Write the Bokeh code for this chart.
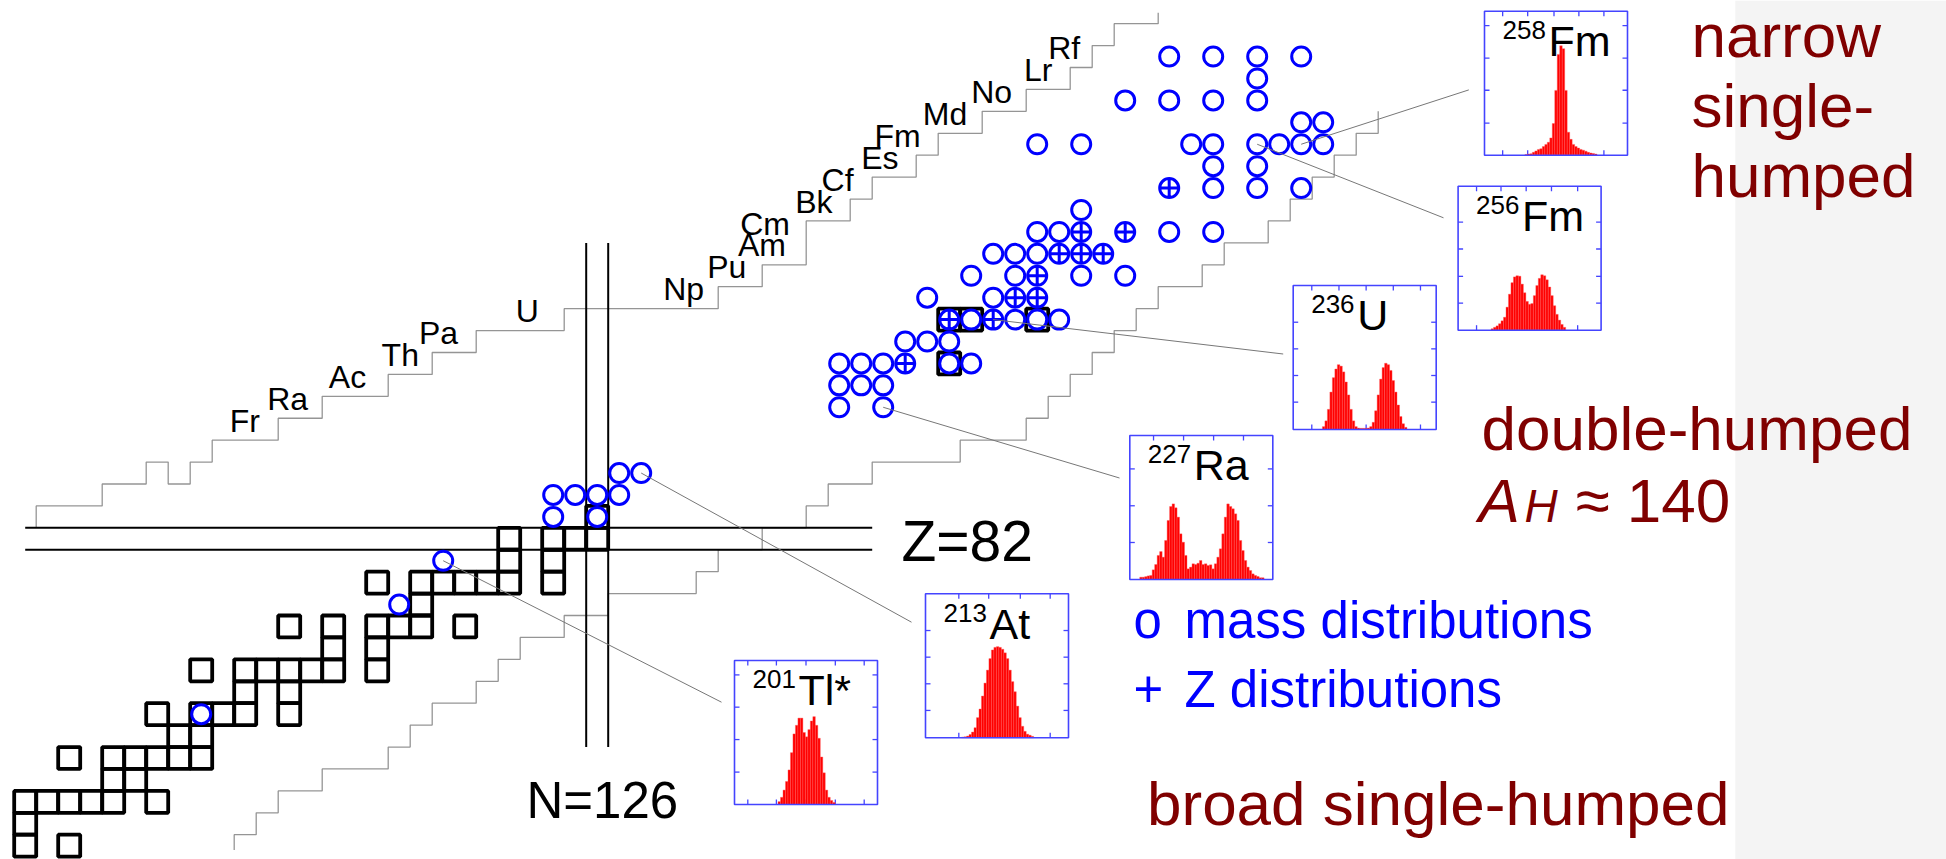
from bokeh.plotting import figure
from bokeh.models import Range1d
from bokeh.core.properties import value
from bokeh.embed import file_html
from bokeh.resources import INLINE

# ---------------- data: nuclide chart (N = neutrons, Z = protons) ----------------
# stable / primordial nuclides (black squares)
stable_Z = [68, 68, 69,
            70, 70, 70, 70, 70, 70,
            71, 71,
            72, 72, 72, 72, 72, 72,
            73, 73,
            74, 74, 74, 74, 74,
            75, 75,
            76, 76, 76, 76, 76, 76, 76,
            77, 77,
            78, 78, 78, 78, 78, 78,
            79,
            80, 80, 80, 80, 80, 80, 80,
            81, 81,
            82, 82, 82, 82,
            83, 90, 92, 92, 92]
stable_N = [100, 102, 100,
            100, 101, 102, 103, 104, 106,
            104, 105,
            102, 104, 105, 106, 107, 108,
            107, 108,
            106, 108, 109, 110, 112,
            110, 112,
            108, 110, 111, 112, 113, 114, 116,
            114, 116,
            112, 114, 116, 117, 118, 120,
            118,
            116, 118, 119, 120, 121, 122, 124,
            122, 124,
            122, 124, 125, 126,
            126, 142, 142, 143, 146]

# systems with measured mass distributions (open circles)
mass_Z = [74, 79, 81, 83, 83,
          84, 84, 84, 84, 85, 85,
          88, 88, 89, 89, 89,
          90, 90, 90, 90, 90,
          91, 91, 91,
          92, 92, 92, 92,
          93, 93,
          94, 94, 94, 94,
          95, 95, 95,
          96, 96, 96, 96,
          97,
          98, 98, 98,
          99, 99,
          100, 100, 100, 100, 100, 100, 100, 100,
          101, 101,
          102, 102, 102, 102,
          103,
          104, 104, 104, 104]
mass_N = [108, 117, 119, 124, 126,
          124, 125, 126, 127, 127, 128,
          137, 139, 137, 138, 139,
          137, 138, 139, 142, 143,
          140, 141, 142,
          143, 145, 146, 147,
          141, 144,
          143, 145, 148, 150,
          144, 145, 146,
          146, 147, 152, 154,
          148,
          154, 156, 158,
          154, 156,
          146, 148, 153, 154, 156, 157, 158, 159,
          158, 159,
          150, 152, 154, 156,
          156,
          152, 154, 156, 158]

# systems with measured Z distributions (circle with cross)
zdist_Z = [90, 92, 92, 93, 93, 94, 95, 95, 95, 96, 96, 98]
zdist_N = [140, 142, 144, 145, 146, 146, 147, 148, 149, 148, 150, 152]

# limits of known nuclides (staircases)
upper_N = [100.5, 100.5, 103.5, 103.5, 105.5, 105.5, 106.5, 106.5, 107.5, 107.5, 108.5, 108.5,
           111.5, 111.5, 113.5, 113.5, 116.5, 116.5, 118.5, 118.5, 120.5, 120.5, 124.5, 124.5,
           131.5, 131.5, 133.5, 133.5, 135.5, 135.5, 137.5, 137.5, 138.5, 138.5, 140.5, 140.5,
           141.5, 141.5, 143.5, 143.5, 145.5, 145.5, 147.5, 147.5, 148.5, 148.5, 149.5, 149.5,
           151.5, 151.5]
upper_Z = [82.5, 83.5, 83.5, 84.5, 84.5, 85.5, 85.5, 84.5, 84.5, 85.5, 85.5, 86.5,
           86.5, 87.5, 87.5, 88.5, 88.5, 89.5, 89.5, 90.5, 90.5, 91.5, 91.5, 92.5,
           92.5, 93.5, 93.5, 94.5, 94.5, 96.5, 96.5, 97.5, 97.5, 98.5, 98.5, 99.5,
           99.5, 100.5, 100.5, 101.5, 101.5, 102.5, 102.5, 103.5, 103.5, 104.5, 104.5, 105.5,
           105.5, 106.0]
lower_N = [109.5, 109.5, 110.5, 110.5, 111.5, 111.5, 113.5, 113.5, 116.5, 116.5, 117.5, 117.5,
           118.5, 118.5, 120.5, 120.5, 121.5, 121.5, 122.5, 122.5, 124.5, 124.5, 126.5, 126.5,
           130.5, 130.5, 131.5, 131.5, 133.5, 133.5, 135.5, 135.5, 136.5, 136.5, 138.5, 138.5,
           142.5, 142.5, 145.5, 145.5, 146.5, 146.5, 147.5, 147.5, 148.5, 148.5, 149.5, 149.5,
           150.5, 150.5, 151.5, 151.5, 153.5, 153.5, 154.5, 154.5, 156.5, 156.5, 157.5, 157.5,
           158.5, 158.5, 159.5, 159.5, 160.5, 160.5, 161.5, 161.5]
lower_Z = [67.8, 68.5, 68.5, 69.5, 69.5, 70.5, 70.5, 71.5, 71.5, 72.5, 72.5, 73.5,
           73.5, 74.5, 74.5, 75.5, 75.5, 76.5, 76.5, 77.5, 77.5, 78.5, 78.5, 79.5,
           79.5, 80.5, 80.5, 81.5, 81.5, 82.5, 82.5, 83.5, 83.5, 84.5, 84.5, 85.5,
           85.5, 86.5, 86.5, 87.5, 87.5, 88.5, 88.5, 89.5, 89.5, 90.5, 90.5, 91.5,
           91.5, 92.5, 92.5, 93.5, 93.5, 94.5, 94.5, 95.5, 95.5, 96.5, 96.5, 97.5,
           97.5, 98.5, 98.5, 99.5, 99.5, 100.5, 100.5, 101.5]

# element labels along the proton-rich edge
elem_sym = ["Fr", "Ra", "Ac", "Th", "Pa", "U", "Np", "Pu", "Am", "Cm", "Bk", "Cf", "Es",
            "Fm", "Md", "No", "Lr", "Rf"]
elem_Z = [87, 88, 89, 90, 91, 92, 93, 94, 95, 96, 97, 98, 99, 100, 101, 102, 103, 104]
elem_label_N = [109.3, 111.0, 113.8, 116.2, 117.9, 122.3, 129.0, 131.0, 132.4, 132.5, 135.0,
                136.2, 138.0, 138.6, 140.8, 143.0, 145.4, 146.5]

# magic numbers
magic_Z = 82
magic_N = 126

# fission fragment mass distributions (relative yield per 2-u mass bin)
fm258_A0, fm258_yield = 104, [.005, .008, .01, .02, .03, .04, .045, .06, .075, .09, .12, .22,
                              .45, .70, .76, .74, .45, .16, .11, .075, .06, .05, .04, .035,
                              .028, .02, .015, .012, .008]
fm256_A0, fm256_yield = 97, [.01, .02, .03, .045, .065, .09, .16, .25, .33, .37, .378, .375,
                             .32, .26, .20, .18, .185, .24, .31, .36, .385, .378, .35, .30,
                             .24, .17, .11, .07, .04, .02]
u236_A0, u236_yield = 84, [.02, .06, .14, .26, .36, .42, .45, .44, .40, .33, .24, .14, .06,
                           .02, .01, .008, .008, .008, .01, .02, .05, .13, .24, .35, .43,
                           .46, .45, .41, .34, .26, .17, .09, .04, .015]
ra227_A0, ra227_yield = 68, [.016, .016, .02, .025, .028, .067, .104, .167, .194, .155, .271,
                             .41, .507, .525, .498, .433, .317, .259, .167, .074, .086, .109,
                             .104, .113, .132, .104, .109, .097, .102, .074, .109, .155, .213,
                             .317, .433, .525, .507, .491, .456, .41, .271, .201, .132, .086,
                             .0625, .039, .028, .021, .012, .012]
at213_A0, at213_yield = 78, [.005, .007, .012, .023, .04, .07, .14, .2, .29, .38, .47, .55,
                             .61, .628, .633, .628, .615, .59, .55, .47, .39, .32, .22, .14,
                             .08, .045, .025, .018, .01]
tl201_A0, tl201_yield = 78, [.02, .05, .1, .16, .24, .36, .49, .55, .6, .6, .5, .47, .52, .58,
                             .61, .55, .46, .33, .22, .1, .05, .028, .014]
bin_width = 2

# ---------------- figure ----------------
W, H = 1946, 859
CX, CY = 22.0, 21.92             # pixels per N, per Z
N0 = 126 - 596.7 / CX            # N at the left page edge
Z1 = 82 + 538.3 / CY             # Z at the top page edge
BL = 0.35                        # baseline correction (fraction of font size)


def page_x(n):
    return (n - N0) * CX


def page_y(z):
    return (Z1 - z) * CY


p = figure(width=W, height=H, x_range=Range1d(N0, N0 + W / CX), y_range=Range1d(Z1 - H / CY, Z1),
           output_backend="svg", toolbar_location=None, tools="", title=None,
           x_axis_type=None, y_axis_type=None, min_border=0)
p.outline_line_color = None
p.background_fill_color = "white"
p.border_fill_color = "white"
p.extra_x_ranges = {"page": Range1d(0, W)}
p.extra_y_ranges = {"page": Range1d(H, 0)}
PG = dict(x_range_name="page", y_range_name="page")
FONT = value("Liberation Sans")

# light grey band on the right
p.quad(left=[1734.8], right=[W], top=[0], bottom=[H], fill_color="#f4f4f4", line_color=None, **PG)

# staircases
p.line(upper_N, upper_Z, line_color="#959595", line_width=1.3)
p.line(lower_N, lower_Z, line_color="#959595", line_width=1.3)

# magic number lines
p.segment(x0=[100, 100, magic_N - 0.5, magic_N + 0.5],
          y0=[magic_Z - 0.5, magic_Z + 0.5, 72.5, 72.5],
          x1=[138.5, 138.5, magic_N - 0.5, magic_N + 0.5],
          y1=[magic_Z - 0.5, magic_Z + 0.5, 95.5, 95.5],
          line_color="black", line_width=2)

# stable nuclides
p.rect(x=stable_N, y=stable_Z, width=1, height=1, fill_color=None, line_color="black", line_width=3.8)

# measured systems
p.scatter(mass_N, mass_Z, marker="circle", size=19.0, fill_color=None, line_color="#0000ff", line_width=3.0)
p.scatter(zdist_N, zdist_Z, marker="circle_cross", size=19.0, fill_color=None, line_color="#0000ff",
          line_width=3.0)

# element labels
EL_FS = 32
p.text(x=elem_label_N, y=[z - 0.13 + BL * EL_FS / CY for z in elem_Z], text=elem_sym, text_font=FONT,
       text_font_size=f"{EL_FS}px", text_baseline="alphabetic", text_align="left", text_color="black")

# ---------------- insets ----------------
insets = [
    # key, mass number, element, source N, source Z, A0, yields, frame(left, top), A range, x ticks, y ticks, leader end
    ("fm258", "258", "Fm", 158, 100, fm258_A0, fm258_yield, (1484, 10.7), (71.5, 186.5),
     [.127, .302, .486, .66, .835], [.223, .451, .674, .9], (1468.3, 89.4)),
    ("fm256", "256", "Fm", 156, 100, fm256_A0, fm256_yield, (1457.6, 185.7), (70.5, 185.5),
     [.129, .3, .476, .653, .836], [.188, .374, .564, .75], (1443, 217.3)),
    ("u236", "236", "U", 144, 92, u236_A0, u236_yield, (1292.7, 285), (60.5, 175.5),
     [.13, .32, .51, .70, .89], [.19, .375, .56, .745], (1282.7, 353.5)),
    ("ra227", "227", "Ra", 139, 88, ra227_A0, ra227_yield, (1129.3, 435), (60, 175),
     [.166, .376, .586, .795], [.257, .512, .768], (1119, 477.5)),
    ("at213", "213", "At", 128, 85, at213_A0, at213_yield, (925, 593.3), (49, 164),
     [.233, .442, .663, .872], [.19, .375, .56, .745], (911, 621.7)),
    ("tl201", "201", "Tl*", 119, 81, tl201_A0, tl201_yield, (734, 660), (43, 158),
     [.093, .293, .5, .705, .907], [.225, .451, .676, .9], (721, 701.7)),
]
FW, FH = 143.0, 144.0
BLUE_FRAME = "#4444ff"
NUM_FS, EL2_FS = 26, 43

# leader lines from the nucleus to its inset
p.segment(x0=[page_x(i[3]) for i in insets], y0=[page_y(i[4]) for i in insets],
          x1=[i[11][0] for i in insets], y1=[i[11][1] for i in insets],
          line_color="#777777", line_width=1, **PG)

for key, num, el, sN, sZ, A0, ylds, (fl, ft), (alo, ahi), xt, yt, _ in insets:
    span_x = (ahi - alo) * W / FW
    sx = alo - span_x * fl / W
    p.extra_x_ranges[key] = Range1d(sx, sx + span_x)
    span_y = 1.0 * H / FH
    sy = -span_y * (H - ft - FH) / H
    p.extra_y_ranges[key] = Range1d(sy, sy + span_y)
    R = dict(x_range_name=key, y_range_name=key)
    dx = (ahi - alo) * 5 / FW
    dy = 5 / FH
    # background
    p.quad(left=[alo], right=[ahi], bottom=[0], top=[1], fill_color="white", line_color=None, **R)
    # ticks on all four sides
    txs = [alo + f * (ahi - alo) for f in xt]
    p.segment(x0=txs + txs, x1=txs + txs, y0=[1] * len(txs) + [0] * len(txs),
              y1=[1 - dy] * len(txs) + [dy] * len(txs), line_color=BLUE_FRAME, line_width=1.3, **R)
    p.segment(x0=[alo] * len(yt) + [ahi] * len(yt), x1=[alo + dx] * len(yt) + [ahi - dx] * len(yt),
              y0=yt + yt, y1=yt + yt, line_color=BLUE_FRAME, line_width=1.3, **R)
    # label (superscript mass number + element)
    p.text(x=[alo + (ahi - alo) * 18 / FW], y=[1 - (28 - BL * NUM_FS) / FH], text=[num], text_font=FONT,
           text_font_size=f"{NUM_FS}px", text_baseline="alphabetic", text_color="black", **R)
    p.text(x=[alo + (ahi - alo) * 64 / FW], y=[1 - (45 - BL * EL2_FS) / FH], text=[el], text_font=FONT,
           text_font_size=f"{EL2_FS}px", text_baseline="alphabetic", text_color="black", **R)
    # histogram
    lefts = [A0 + bin_width * k for k in range(len(ylds))]
    p.quad(left=lefts, right=[a + bin_width for a in lefts], bottom=0, top=ylds,
           fill_color="#ff0000", line_color="#ff5a5a", line_width=0.4, **R)
    # frame
    p.quad(left=[alo], right=[ahi], bottom=[0], top=[1], fill_color=None, line_color=BLUE_FRAME,
           line_width=1.6, **R)


# ---------------- texts ----------------
def page_text(x, y, t, fs, color="black", style="normal", align="left"):
    p.text(x=[x], y=[y - BL * fs], text=[t], text_font=FONT, text_font_size=f"{fs}px", text_color=color,
           text_font_style=style, text_baseline="alphabetic", text_align=align, **PG)


page_text(901, 560, "Z=82", 57)
page_text(526, 818, "N=126", 51)

page_text(1133, 638.3, "o", 51, "#0000ff")
page_text(1184, 638.3, "mass distributions", 51, "#0000ff")
page_text(1133, 706.7, "+", 51, "#0000ff")
page_text(1184, 706.7, "Z distributions", 51, "#0000ff")

DR = "#800000"
page_text(1691, 57, "narrow", 62, DR)
page_text(1691, 127, "single-", 62, DR)
page_text(1691, 197, "humped", 62, DR)
page_text(1481, 450, "double-humped", 62, DR)
page_text(1478, 521.7, "A", 62, DR, "italic")
page_text(1524, 521.7, "H", 46, DR, "italic")
page_text(1575, 521.7, "\u2248 140", 62, DR)
page_text(1729, 825, "broad single-humped", 62, DR, align="right")

open("out.html", "w").write(file_html(p, INLINE, title="fission mass distributions"))
